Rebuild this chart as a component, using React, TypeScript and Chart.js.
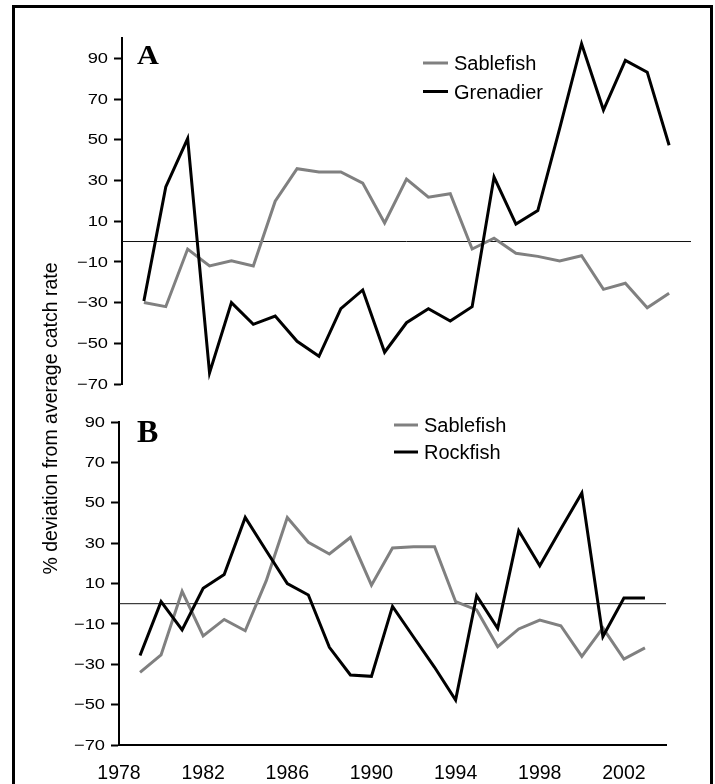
import React, { useEffect, useRef } from "react";
import { Chart, registerables } from "chart.js";

Chart.register(...registerables);

// ---------- data ----------
const YEARS = [
  1979, 1980, 1981, 1982, 1983, 1984, 1985, 1986, 1987, 1988, 1989, 1990, 1991,
  1992, 1993, 1994, 1995, 1996, 1997, 1998, 1999, 2000, 2001, 2002, 2003,
];
const SABLEFISH_A = [
  -30, -32, -3.7, -12, -9.5, -12, 19.8, 35.8, 34.2, 34.2, 28.7, 9.1, 30.7, 21.8,
  23.5, -3.7, 1.6, -5.8, -7.3, -9.5, -7, -23.5, -20.5, -32.5, -25.4,
];
const GRENADIER = [
  -29.2, 26.8, 50.6, -64.6, -30, -40.7, -36.6, -49, -56.4, -33, -23.8, -54.4,
  -39.9, -33, -39.1, -32, 31.7, 8.6, 15.2, 55.6, 97.2, 64.6, 89, 83.2, 47.3,
];
const SABLEFISH_B = [
  -34, -25.4, 6.1, -16, -7.8, -13.4, 11.4, 42.7, 30.4, 24.6, 32.8, 9.2, 27.6,
  28.2, 28.2, 1, -3.1, -21.3, -12.5, -8.1, -10.9, -26.1, -12, -27.4, -21.9,
];
const ROCKFISH = [
  -25.7, 1, -13, 7.6, 14.4, 42.7, 26.2, 10, 4.3, -21.6, -35.3, -36, -1.3, -16.5,
  -31.5, -47.7, 4, -12.2, 36.1, 18.8, 37, 54.8, -16.3, 2.8, 2.8,
];
const Y_TICKS = [-70, -50, -30, -10, 10, 30, 50, 70, 90];
const X_TICKS = [1978, 1982, 1986, 1990, 1994, 1998, 2002];
const X_MIN = 1978;
const X_MAX = 2004;
const Y_MIN = -70;
const Y_MAX_A = 100;
const Y_MAX_B = 90;
const Y_TITLE = "% deviation from average catch rate";
const LABELS_A = ["Sablefish", "Grenadier"];
const LABELS_B = ["Sablefish", "Rockfish"];

// ---------- styles ----------
const SANS = "'Liberation Sans', Arial, Helvetica, sans-serif";
const SERIF = "'Liberation Serif', 'Times New Roman', serif";
const GRAY = "#808080";
const BLACK = "#000000";

const fmt = (v: number) => (v < 0 ? "\u2212" + Math.abs(v) : String(v));
const toXY = (vals: number[]) => YEARS.map((yr, i) => ({ x: yr, y: vals[i] }));

const overlayPlugin = {
  id: "overlay",
  afterDraw(chart: any, _args: any, opts: any) {
    const ctx = chart.ctx as CanvasRenderingContext2D;
    const ys = chart.scales.y;
    ctx.save();
    ctx.fillStyle = BLACK;
    // y tick labels (horizontally stretched like the reference)
    ctx.font = `15px ${SANS}`;
    ctx.textAlign = "right";
    ctx.textBaseline = "middle";
    for (const t of ys.ticks) {
      const py = ys.getPixelForValue(t.value);
      ctx.save();
      ctx.translate(chart.chartArea.left - 14, py + 0.5);
      ctx.scale(1.22, 1);
      ctx.fillText(fmt(t.value), 0, 0);
      ctx.restore();
    }
    // panel letter
    ctx.save();
    ctx.font = `bold ${opts.letterSize}px ${SERIF}`;
    ctx.textAlign = "left";
    ctx.textBaseline = "alphabetic";
    ctx.translate(opts.letterX, opts.letterY);
    ctx.scale(opts.letterSx, 1);
    ctx.fillText(opts.letter, 0, 0);
    ctx.restore();
    // legend
    const items = chart.data.datasets.filter((d: any) => d.label);
    items.forEach((d: any, i: number) => {
      const y = opts.legendY + i * opts.legendRow;
      ctx.strokeStyle = d.borderColor;
      ctx.lineWidth = 3;
      ctx.beginPath();
      ctx.moveTo(opts.legendX, y);
      ctx.lineTo(opts.legendX + opts.legendLine, y);
      ctx.stroke();
      ctx.font = `20px ${SANS}`;
      ctx.textAlign = "left";
      ctx.textBaseline = "alphabetic";
      ctx.fillText(d.label, opts.legendX + opts.legendLine + 6, y + 7.3);
    });
    // shared y title
    if (opts.yTitle) {
      ctx.save();
      ctx.font = `19.5px ${SANS}`;
      ctx.textAlign = "center";
      ctx.textBaseline = "alphabetic";
      ctx.translate(57, 418.5);
      ctx.rotate(-Math.PI / 2);
      ctx.fillText(opts.yTitle, 0, 0);
      ctx.restore();
    }
    ctx.restore();
  },
};

function buildConfig(panel: "A" | "B"): any {
  const isA = panel === "A";
  const series1 = isA ? SABLEFISH_A : SABLEFISH_B;
  const series2 = isA ? GRENADIER : ROCKFISH;
  const labels = isA ? LABELS_A : LABELS_B;
  return {
    type: "line",
    data: {
      datasets: [
        {
          label: labels[0],
          data: toXY(series1),
          borderColor: GRAY,
          borderWidth: 3,
          pointRadius: 0,
          tension: 0,
          order: 2,
        },
        {
          label: labels[1],
          data: toXY(series2),
          borderColor: BLACK,
          borderWidth: 3,
          pointRadius: 0,
          tension: 0,
          order: 1,
        },
        {
          label: "",
          data: [
            { x: X_MIN, y: 0 },
            { x: X_MAX, y: 0 },
          ],
          borderColor: "#111",
          borderWidth: 1,
          pointRadius: 0,
          order: 3,
        },
      ],
    },
    plugins: [overlayPlugin],
    options: {
      responsive: false,
      animation: false,
      devicePixelRatio: 1,
      layout: {
        padding: isA
          ? { left: 0, right: 715 - 691, top: 38, bottom: 784 - 384 }
          : { left: 0, right: 715 - 666, top: 422, bottom: 0 },
      },
      plugins: {
        legend: { display: false },
        tooltip: { enabled: false },
        overlay: isA
          ? {
              letter: "A",
              letterSize: 27,
              letterSx: 1.12,
              letterX: 137,
              letterY: 64,
              legendX: 423,
              legendY: 63,
              legendRow: 28.5,
              legendLine: 25,
              yTitle: "",
            }
          : {
              letter: "B",
              letterSize: 32,
              letterSx: 1,
              letterX: 137,
              letterY: 442,
              legendX: 394,
              legendY: 425,
              legendRow: 27,
              legendLine: 24,
              yTitle: Y_TITLE,
            },
      },
      scales: {
        x: {
          type: "linear",
          min: X_MIN,
          max: X_MAX,
          display: !isA,
          afterBuildTicks: (s: any) => {
            s.ticks = X_TICKS.map((v) => ({ value: v }));
          },
          afterFit: (s: any) => {
            s.height = isA ? 0 : 39;
          },
          border: { display: true, color: BLACK, width: 2 },
          grid: { display: true, drawOnChartArea: false, drawTicks: false },
          ticks: {
            autoSkip: false,
            maxRotation: 0,
            padding: 17,
            color: BLACK,
            font: { family: SANS, size: 19.5 },
            callback: (v: number) => String(v),
          },
        },
        y: {
          type: "linear",
          min: Y_MIN,
          max: isA ? Y_MAX_A : Y_MAX_B,
          afterBuildTicks: (s: any) => {
            s.ticks = Y_TICKS.map((v) => ({ value: v }));
          },
          afterFit: (s: any) => {
            s.width = isA ? 122 : 119;
          },
          border: { display: true, color: BLACK, width: 2 },
          grid: {
            display: true,
            drawOnChartArea: false,
            drawTicks: true,
            tickLength: 8,
            tickWidth: 2,
            tickColor: BLACK,
            color: BLACK,
          },
          ticks: { display: false },
        },
      },
    },
  };
}

function Panel({ panel }: { panel: "A" | "B" }) {
  const ref = useRef<HTMLCanvasElement | null>(null);
  useEffect(() => {
    if (!ref.current) return;
    const chart = new Chart(ref.current, buildConfig(panel));
    return () => chart.destroy();
  }, [panel]);
  return (
    <canvas
      ref={ref}
      width={715}
      height={784}
      style={{ position: "absolute", left: 0, top: 0, width: 715, height: 784 }}
    />
  );
}

export default function App() {
  return (
    <div
      style={{
        position: "absolute",
        left: 0,
        top: 0,
        width: 715,
        height: 784,
        overflow: "hidden",
        background: "#fff",
      }}
    >
      <div
        style={{
          position: "absolute",
          left: 12,
          top: 5,
          width: 695,
          height: 820,
          border: "3px solid #000",
        }}
      />
      <Panel panel="A" />
      <Panel panel="B" />
    </div>
  );
}
